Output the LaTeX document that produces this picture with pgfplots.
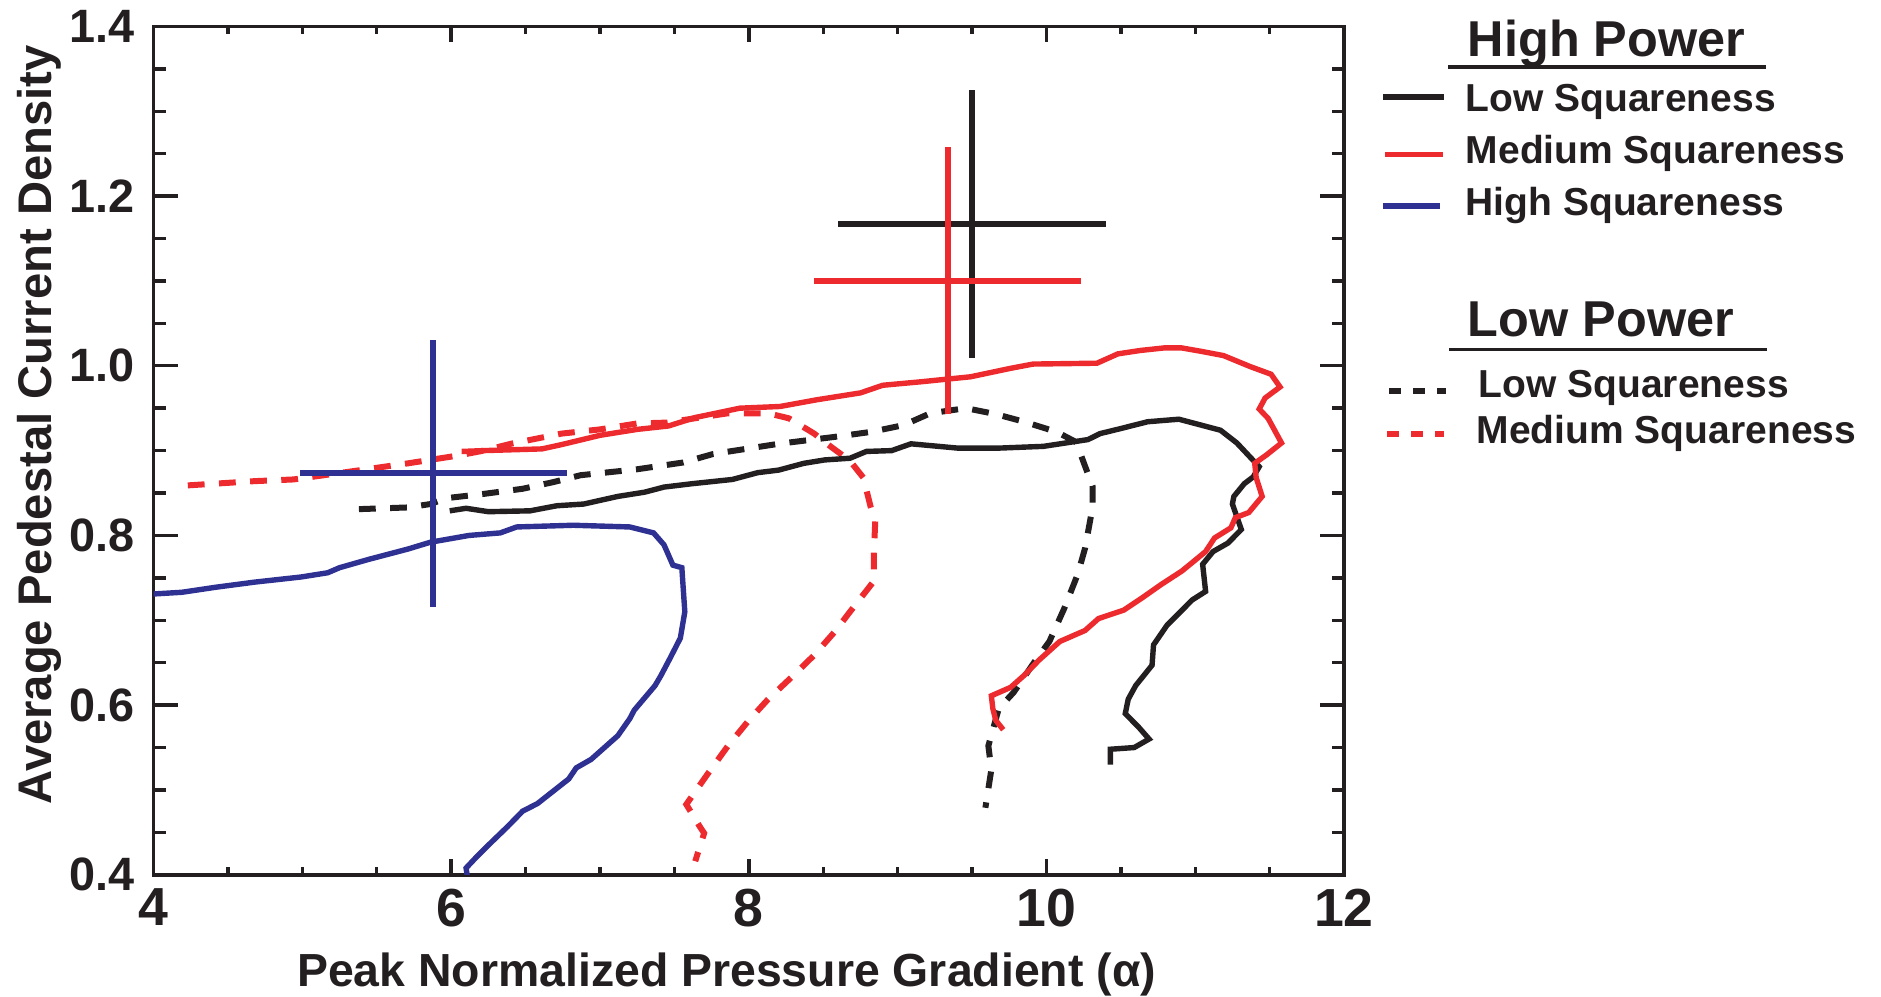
\documentclass[border=0pt]{standalone}
\usepackage{fontspec}
\setmainfont{Liberation Sans}
\usepackage{pgfplots}
\pgfplotsset{compat=1.18}
\definecolor{cblack}{RGB}{35,31,32}
\definecolor{cred}{RGB}{237,43,46}
\definecolor{cblue}{RGB}{46,49,146}
\begin{document}
\begin{tikzpicture}
\useasboundingbox (-38.4pt,-30.3pt) rectangle (431.85pt,218.7pt);
\begin{axis}[
  at={(0,0)}, anchor=south west,
  scale only axis, width=297.6pt, height=212.1pt,
  xmin=4, xmax=12, ymin=0.4, ymax=1.4,
  xtick={4,6,8,10,12}, ytick={0.4,0.6,0.8,1.0,1.2,1.4},
  minor x tick num=3, minor y tick num=3,
  tick align=inside,
  axis line style={line width=0.85pt, cblack},
  every tick/.style={line width=0.85pt, cblack},
  major tick length=6pt, minor tick length=3pt,
  xtick style={/pgfplots/major tick length=4pt,/pgfplots/minor tick length=2pt},
  /pgf/number format/assume math mode=true,
  xticklabel style={font=\fontsize{13.4}{14}\selectfont\bfseries, text=cblack, inner sep=0pt, anchor=north, yshift=-3.3pt},
  yticklabel style={font=\fontsize{11.7}{12}\selectfont\bfseries, text=cblack, inner sep=0pt, anchor=east, xshift=-4.5pt,
    /pgf/number format/.cd, fixed, fixed zerofill, precision=1},
  clip=true,
]
% Low power, low squareness (black dashed)
\addplot[cblack, line width=1.5pt, dash pattern=on 4.2pt off 3.6pt] coordinates {
(5.38,0.831) (5.71,0.833) (5.86,0.837) (5.97,0.844) (6.22,0.849) (6.48,0.855) (6.69,0.863) (6.87,0.871) (7.25,0.878) (7.56,0.886) (7.76,0.896) (8.20,0.908) (8.57,0.916) (8.82,0.922) (9.04,0.930) (9.22,0.944) (9.46,0.950) (9.66,0.943) (9.85,0.934) (10.07,0.922) (10.20,0.910) (10.24,0.891) (10.31,0.858) (10.31,0.833) (10.26,0.785) (10.21,0.754) (10.12,0.714) (10.02,0.675) (9.92,0.651) (9.78,0.615) (9.68,0.596) (9.61,0.552) (9.63,0.524) (9.59,0.479)
};
% Low power, medium squareness (red dashed)
\addplot[cred, line width=1.5pt, dash pattern=on 4.2pt off 3.6pt] coordinates {
(4.23,0.859) (4.68,0.864) (4.94,0.866) (5.35,0.876) (5.71,0.885) (6.04,0.894) (6.22,0.900) (6.40,0.908) (6.74,0.920) (7.00,0.925) (7.25,0.932) (7.45,0.933) (7.56,0.936) (7.86,0.944) (8.13,0.944) (8.27,0.938) (8.44,0.920) (8.51,0.910) (8.68,0.888) (8.77,0.868) (8.82,0.833) (8.85,0.817) (8.84,0.778) (8.84,0.746) (8.68,0.710) (8.58,0.687) (8.44,0.659) (8.30,0.635) (8.13,0.607) (8.00,0.582) (7.86,0.552) (7.72,0.518) (7.58,0.483) (7.67,0.457) (7.70,0.449) (7.64,0.416)
};
% High power, low squareness (black solid)
\addplot[cblack, line width=1.35pt] coordinates {
(5.99,0.829) (6.10,0.832) (6.25,0.828) (6.53,0.829) (6.71,0.835) (6.89,0.837) (7.12,0.846) (7.30,0.851) (7.43,0.857) (7.62,0.861) (7.89,0.866) (8.06,0.874) (8.20,0.877) (8.37,0.885) (8.51,0.889) (8.68,0.891) (8.79,0.899) (8.96,0.900) (9.09,0.908) (9.40,0.903) (9.69,0.903) (9.98,0.905) (10.28,0.913) (10.36,0.920) (10.50,0.926) (10.68,0.934) (10.89,0.937) (11.17,0.924) (11.28,0.909) (11.43,0.881) (11.39,0.869) (11.33,0.861) (11.26,0.846) (11.25,0.837) (11.31,0.807) (11.22,0.791) (11.12,0.781) (11.05,0.766) (11.07,0.734) (10.98,0.724) (10.81,0.694) (10.72,0.671) (10.71,0.647) (10.60,0.623) (10.55,0.607) (10.53,0.590) (10.62,0.574) (10.69,0.560) (10.59,0.550) (10.43,0.548) (10.43,0.530)
};
% High power, medium squareness (red solid)
\addplot[cred, line width=1.35pt] coordinates {
(6.07,0.899) (6.22,0.900) (6.61,0.902) (6.74,0.907) (7.00,0.918) (7.25,0.925) (7.46,0.929) (7.64,0.939) (7.94,0.950) (8.21,0.952) (8.46,0.960) (8.75,0.968) (8.90,0.977) (9.15,0.981) (9.49,0.987) (9.76,0.997) (9.91,1.002) (10.34,1.003) (10.48,1.014) (10.63,1.018) (10.79,1.021) (10.91,1.021) (11.04,1.017) (11.19,1.012) (11.37,0.999) (11.51,0.990) (11.57,0.975) (11.47,0.962) (11.43,0.949) (11.49,0.938) (11.58,0.909) (11.48,0.895) (11.40,0.885) (11.41,0.868) (11.45,0.846) (11.36,0.827) (11.27,0.821) (11.24,0.809) (11.13,0.797) (11.07,0.781) (10.98,0.768) (10.91,0.758) (10.77,0.742) (10.64,0.726) (10.52,0.712) (10.35,0.702) (10.26,0.688) (10.09,0.675) (9.95,0.653) (9.85,0.635) (9.76,0.621) (9.63,0.611) (9.64,0.596) (9.66,0.582) (9.71,0.571)
};
% High power, high squareness (blue solid)
\addplot[cblue, line width=1.35pt] coordinates {
(4.00,0.731) (4.19,0.733) (4.42,0.739) (4.68,0.745) (4.99,0.751) (5.17,0.756) (5.25,0.762) (5.45,0.772) (5.71,0.784) (5.86,0.792) (6.12,0.800) (6.33,0.803) (6.44,0.810) (6.82,0.812) (7.20,0.810) (7.36,0.803) (7.43,0.789) (7.49,0.765) (7.55,0.762) (7.57,0.710) (7.54,0.679) (7.47,0.655) (7.41,0.635) (7.37,0.623) (7.23,0.594) (7.20,0.584) (7.12,0.564) (6.94,0.536) (6.84,0.526) (6.79,0.513) (6.58,0.484) (6.48,0.475) (6.38,0.457) (6.25,0.435) (6.17,0.421) (6.10,0.408) (6.11,0.396)
};
% Error crosses
\addplot[cblack, mark=none, error bars/.cd, x dir=both, x explicit, y dir=both, y explicit, error mark=none,
  error bar style={line width=1.45pt, cblack}] coordinates {(9.50,1.1675) +- (0.899,0.1578)};
\addplot[cred, mark=none, error bars/.cd, x dir=both, x explicit, y dir=both, y explicit, error mark=none,
  error bar style={line width=1.45pt, cred}] coordinates {(9.338,1.1003) +- (0.897,0.1574)};
\addplot[cblue, mark=none, error bars/.cd, x dir=both, x explicit, y dir=both, y explicit, error mark=none,
  error bar style={line width=1.45pt, cblue}] coordinates {(5.88,0.8732) +- (0.896,0.1572)};
\end{axis}
% axis labels
\node[anchor=base, inner sep=0pt, text=cblack, font=\fontsize{11.6}{12}\selectfont\bfseries] at (143.25pt,-27.97pt) {Peak Normalized Pressure Gradient (α)};
\node[anchor=base, rotate=90, inner sep=0pt, text=cblack, font=\fontsize{11.8}{12}\selectfont\bfseries] at (-25.5pt,112.5pt) {Average Pedestal Current Density};
% legend
\node[anchor=base west, inner sep=0pt, text=cblack, font=\fontsize{12.6}{13}\selectfont\bfseries] at (328.35pt,204.6pt) {High Power};
\draw[cblack, line width=0.85pt] (323.6pt,201.95pt) -- (403.1pt,201.95pt);
\draw[cblack, line width=1.3pt] (307.35pt,194.45pt) -- (322.6pt,194.45pt);
\draw[cred, line width=1.3pt] (307.85pt,180.1pt) -- (322.35pt,180.1pt);
\draw[cblue, line width=1.3pt] (307.35pt,167.2pt) -- (321.6pt,167.2pt);
\node[anchor=base west, inner sep=0pt, text=cblack, font=\fontsize{9.75}{10}\selectfont\bfseries] at (327.85pt,190.9pt) {Low Squareness};
\node[anchor=base west, inner sep=0pt, text=cblack, font=\fontsize{9.75}{10}\selectfont\bfseries] at (327.85pt,177.7pt) {Medium Squareness};
\node[anchor=base west, inner sep=0pt, text=cblack, font=\fontsize{9.75}{10}\selectfont\bfseries] at (327.85pt,164.8pt) {High Squareness};
\node[anchor=base west, inner sep=0pt, text=cblack, font=\fontsize{12.6}{13}\selectfont\bfseries] at (328.35pt,134.6pt) {Low Power};
\draw[cblack, line width=0.85pt] (323.85pt,131.3pt) -- (403.35pt,131.3pt);
\draw[cblack, line width=1.3pt, dash pattern=on 3pt off 3pt] (308.85pt,120.95pt) -- (323.1pt,120.95pt);
\draw[cred, line width=1.3pt, dash pattern=on 3pt off 3pt] (308.35pt,110.2pt) -- (322.6pt,110.2pt);
\node[anchor=base west, inner sep=0pt, text=cblack, font=\fontsize{9.75}{10}\selectfont\bfseries] at (331.1pt,119.3pt) {Low Squareness};
\node[anchor=base west, inner sep=0pt, text=cblack, font=\fontsize{9.75}{10}\selectfont\bfseries] at (330.6pt,107.75pt) {Medium Squareness};
\end{tikzpicture}
\end{document}
